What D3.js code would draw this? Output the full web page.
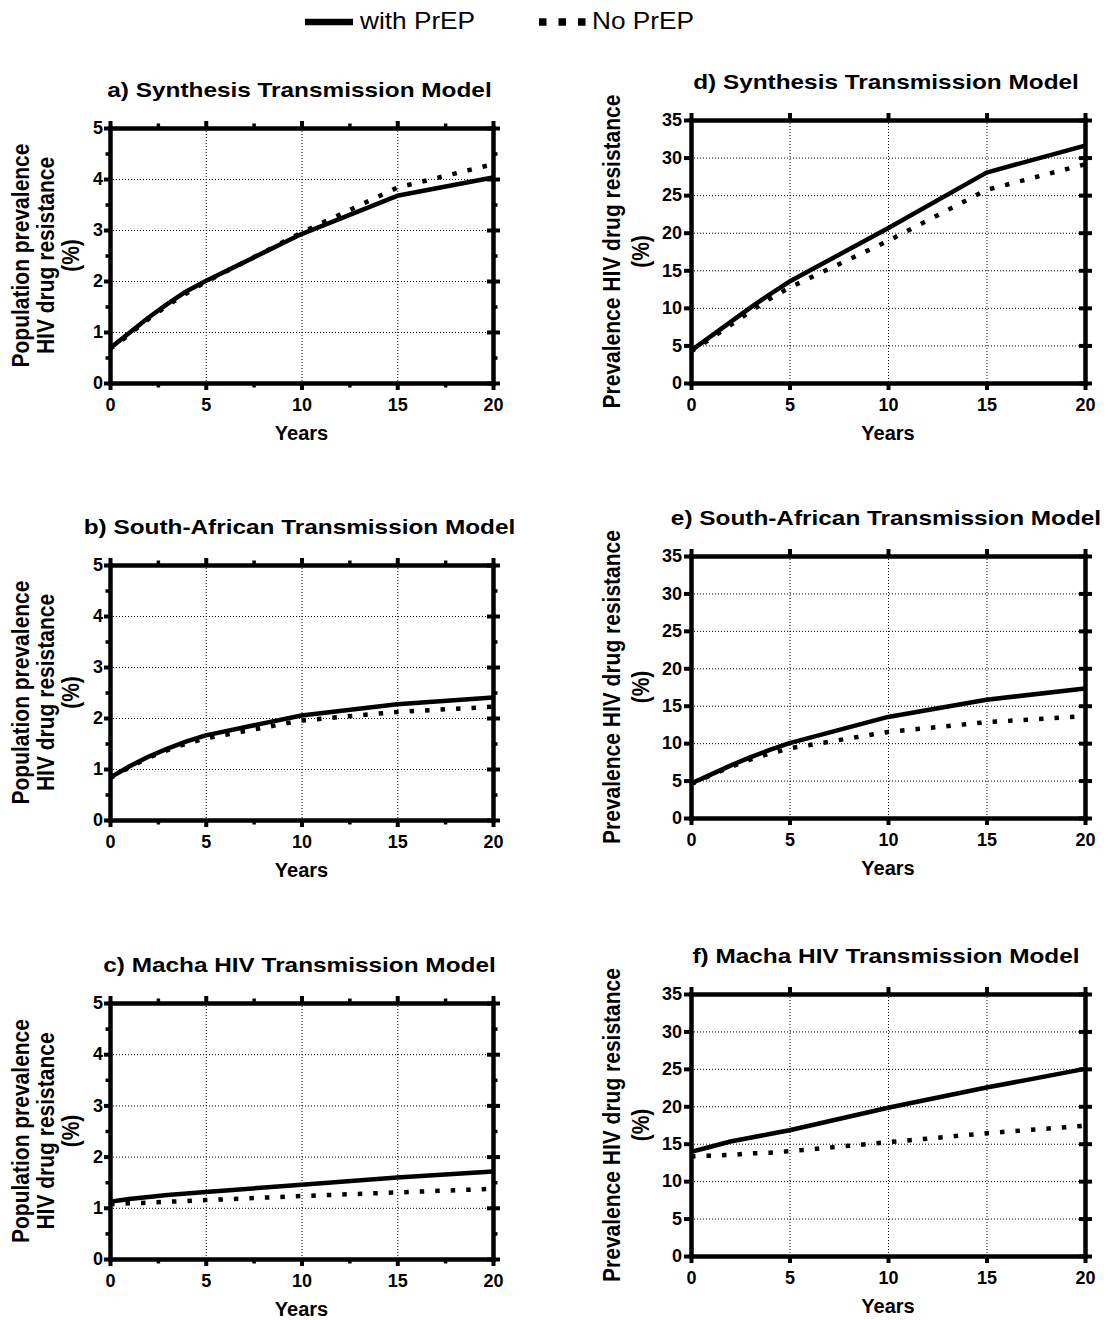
<!DOCTYPE html>
<html>
<head>
<meta charset="utf-8">
<script src="https://cdn.jsdelivr.net/npm/d3@7"></script>
<style>
  body { margin: 0; background: #fff; }
  svg text { font-family: "Liberation Sans", Arial, Helvetica, sans-serif; fill: #000; }
  .tick-label { font-size: 18px; font-weight: bold; }
  .panel-title { font-size: 21px; font-weight: bold; }
  .axis-title { font-size: 20px; font-weight: bold; }
  .y-title { font-size: 21px; font-weight: bold; }
  .legend-text { font-size: 23px; }
</style>
</head>
<body>
<svg id="chart" width="1116" height="1320"></svg>
<script>
// ---- data -------------------------------------------------------------
const years = [0, 1, 2, 3, 4, 5, 10, 15, 20];
const xTicks = [0, 5, 10, 15, 20];
const xMinorTicks = [2.5, 7.5, 12.5, 17.5];
const popTicks = [0, 1, 2, 3, 4, 5];
const popMinorTicks = [0.5, 1.5, 2.5, 3.5, 4.5];
const prevTicks = [0, 5, 10, 15, 20, 25, 30, 35];
const seriesNames = ["with PrEP", "No PrEP"];

// population prevalence of HIV drug resistance (%)
const synthPopWith = [0.68, 0.98, 1.28, 1.55, 1.80, 2.00, 2.92, 3.67, 4.03];
const synthPopNo   = [0.66, 0.95, 1.25, 1.52, 1.76, 1.98, 2.95, 3.83, 4.29];
const saPopWith    = [0.83, 1.05, 1.24, 1.40, 1.54, 1.66, 2.05, 2.27, 2.40];
const saPopNo      = [0.82, 1.03, 1.22, 1.37, 1.50, 1.60, 1.95, 2.12, 2.22];
const machaPopWith = [1.12, 1.17, 1.21, 1.25, 1.28, 1.31, 1.45, 1.59, 1.71];
const machaPopNo   = [1.07, 1.09, 1.10, 1.12, 1.13, 1.15, 1.23, 1.30, 1.37];

// prevalence of HIV drug resistance among people with HIV (%)
const synthPrevWith = [4.3, 6.2, 8.1, 10.0, 11.8, 13.5, 20.6, 28.0, 31.6];
const synthPrevNo   = [4.2, 5.9, 7.7, 9.5, 11.2, 12.7, 18.9, 25.7, 29.1];
const saPrevWith    = [4.6, 5.8, 7.0, 8.1, 9.1, 10.0, 13.5, 15.8, 17.3];
const saPrevNo      = [4.5, 5.7, 6.8, 7.8, 8.6, 9.3, 11.5, 12.8, 13.6];
const machaPrevWith = [13.9, 14.6, 15.3, 15.8, 16.3, 16.8, 19.8, 22.5, 25.0];
const machaPrevNo   = [13.3, 13.4, 13.5, 13.7, 13.8, 14.0, 15.2, 16.4, 17.4];

const popLabel = ["Population prevalence", "HIV drug resistance", "(%)"];
const prevLabel = ["Prevalence HIV drug resistance", "(%)"];

const panels = [
  { title: "a) Synthesis Transmission Model",       withPrEP: synthPopWith,  noPrEP: synthPopNo,  kind: "pop"  },
  { title: "b) South-African Transmission Model",   withPrEP: saPopWith,     noPrEP: saPopNo,     kind: "pop"  },
  { title: "c) Macha HIV Transmission Model",       withPrEP: machaPopWith,  noPrEP: machaPopNo,  kind: "pop"  },
  { title: "d) Synthesis Transmission Model",       withPrEP: synthPrevWith, noPrEP: synthPrevNo, kind: "prev" },
  { title: "e) South-African Transmission Model",   withPrEP: saPrevWith,    noPrEP: saPrevNo,    kind: "prev" },
  { title: "f) Macha HIV Transmission Model",       withPrEP: machaPrevWith, noPrEP: machaPrevNo, kind: "prev" }
];

// ---- layout -----------------------------------------------------------
const frames = [
  { left: 110, top: 128, right: 493, bottom: 383 },
  { left: 110, top: 565, right: 493, bottom: 820 },
  { left: 110, top: 1003, right: 493, bottom: 1259 },
  { left: 691, top: 120, right: 1085, bottom: 383 },
  { left: 691, top: 556, right: 1085, bottom: 818 },
  { left: 691, top: 994, right: 1085, bottom: 1256 }
];

const kinds = {
  pop:  { ticks: popTicks,  minor: popMinorTicks, label: popLabel,  labelOffsets: [-81, -56, -31], tickSize: 6, pad: 1 },
  prev: { ticks: prevTicks, minor: null,          label: prevLabel, labelOffsets: [-71, -42],      tickSize: 7, pad: 2 }
};

const AXIS_W = 4.5, TICK_W = 4, LINE_W = 4.5;

const svg = d3.select("#chart");

function styleAxis(sel) {
  sel.attr("font-size", null).attr("font-family", null);
  sel.select(".domain").attr("stroke-width", AXIS_W).attr("stroke-linecap", "square");
  sel.selectAll(".tick line").attr("stroke-width", TICK_W);
  sel.selectAll(".tick text").attr("class", "tick-label");
}

panels.forEach((p, i) => {
  const f = frames[i];
  const k = kinds[p.kind];
  const w = f.right - f.left, h = f.bottom - f.top;
  const x = d3.scaleLinear().domain([0, 20]).range([0, w]);
  const yMax = k.ticks[k.ticks.length - 1];
  const y = d3.scaleLinear().domain([0, yMax]).range([h, 0]);

  const g = svg.append("g").attr("transform", `translate(${f.left},${f.top})`);

  // dotted grid
  const gridX = g.append("g")
    .call(d3.axisBottom(x).tickValues(xTicks.slice(1, -1)).tickSize(h).tickFormat(""));
  gridX.select(".domain").remove();
  const gridY = g.append("g")
    .call(d3.axisRight(y).tickValues(k.ticks.slice(1, -1)).tickSize(w).tickFormat(""));
  gridY.select(".domain").remove();
  g.selectAll(".tick line").attr("stroke", "#000").attr("stroke-width", 1).attr("stroke-dasharray", "1,2");

  // series
  const line = d3.line().x(d => x(d[0])).y(d => y(d[1]));
  g.append("path")
    .datum(d3.zip(years, p.noPrEP))
    .attr("d", line)
    .attr("fill", "none").attr("stroke", "#000")
    .attr("stroke-width", LINE_W).attr("stroke-dasharray", "4.5,11");
  g.append("path")
    .datum(d3.zip(years, p.withPrEP))
    .attr("d", line)
    .attr("fill", "none").attr("stroke", "#000")
    .attr("stroke-width", LINE_W).attr("stroke-linejoin", "round");

  // frame axes
  const fmt = d3.format("d");
  g.append("g")
    .call(d3.axisLeft(y).tickValues(k.ticks).tickSize(k.tickSize).tickPadding(k.pad).tickSizeOuter(0).tickFormat(fmt))
    .call(styleAxis);
  g.append("g").attr("transform", `translate(0,${h})`)
    .call(d3.axisBottom(x).tickValues(xTicks).tickSize(7).tickPadding(8).tickSizeOuter(0).tickFormat(fmt))
    .call(styleAxis);
  g.append("g")
    .call(d3.axisTop(x).tickValues(xTicks).tickSize(7).tickSizeOuter(0).tickFormat(""))
    .call(styleAxis);
  g.append("g").attr("transform", `translate(${w},0)`)
    .call(d3.axisRight(y).tickValues(k.ticks).tickSize(7).tickSizeOuter(0).tickFormat(""))
    .call(styleAxis)
    .selectAll(".tick line").attr("x1", -6);

  // minor ticks
  if (k.minor) {
    const minorAxes = [
      [d3.axisLeft(y).tickValues(k.minor), "translate(0,0)"],
      [d3.axisRight(y).tickValues(k.minor), `translate(${w},0)`],
      [d3.axisBottom(x).tickValues(xMinorTicks), `translate(0,${h})`],
      [d3.axisTop(x).tickValues(xMinorTicks), "translate(0,0)"]
    ];
    minorAxes.forEach(([ax, tr]) => {
      const m = g.append("g").attr("transform", tr).call(ax.tickSize(4.5).tickFormat(""));
      m.select(".domain").remove();
      m.selectAll(".tick line").attr("stroke-width", 3.5);
    });
  }

  // panel title
  g.append("text")
    .attr("class", "panel-title")
    .attr("text-anchor", "middle")
    .attr("transform", `translate(${w / 2 - 2},-31) scale(1.16,1)`)
    .text(p.title);

  // x-axis title
  g.append("text")
    .attr("class", "axis-title")
    .attr("text-anchor", "middle")
    .attr("x", w / 2).attr("y", h + 57)
    .text("Years");

  // y-axis title
  k.label.forEach((t, j) => {
    g.append("text")
      .attr("class", "y-title")
      .attr("text-anchor", "middle")
      .attr("transform", `translate(${k.labelOffsets[j]},${h / 2}) scale(1.12,1) rotate(-90)`)
      .text(t);
  });
});

// ---- legend -----------------------------------------------------------
const legend = svg.append("g");
const legendItems = [
  { name: seriesNames[0], x1: 305, x2: 353, tx: 360, dash: null, width: 6.5 },
  { name: seriesNames[1], x1: 539, x2: 587, tx: 592, dash: "7.5,12", width: 7.5 }
];
legendItems.forEach(it => {
  legend.append("line")
    .attr("x1", it.x1).attr("x2", it.x2).attr("y1", 22).attr("y2", 22)
    .attr("stroke", "#000").attr("stroke-width", it.width)
    .attr("stroke-dasharray", it.dash);
  legend.append("text")
    .attr("class", "legend-text")
    .attr("transform", `translate(${it.tx},28.5) scale(1.14,1)`)
    .text(it.name);
});
</script>
</body>
</html>
